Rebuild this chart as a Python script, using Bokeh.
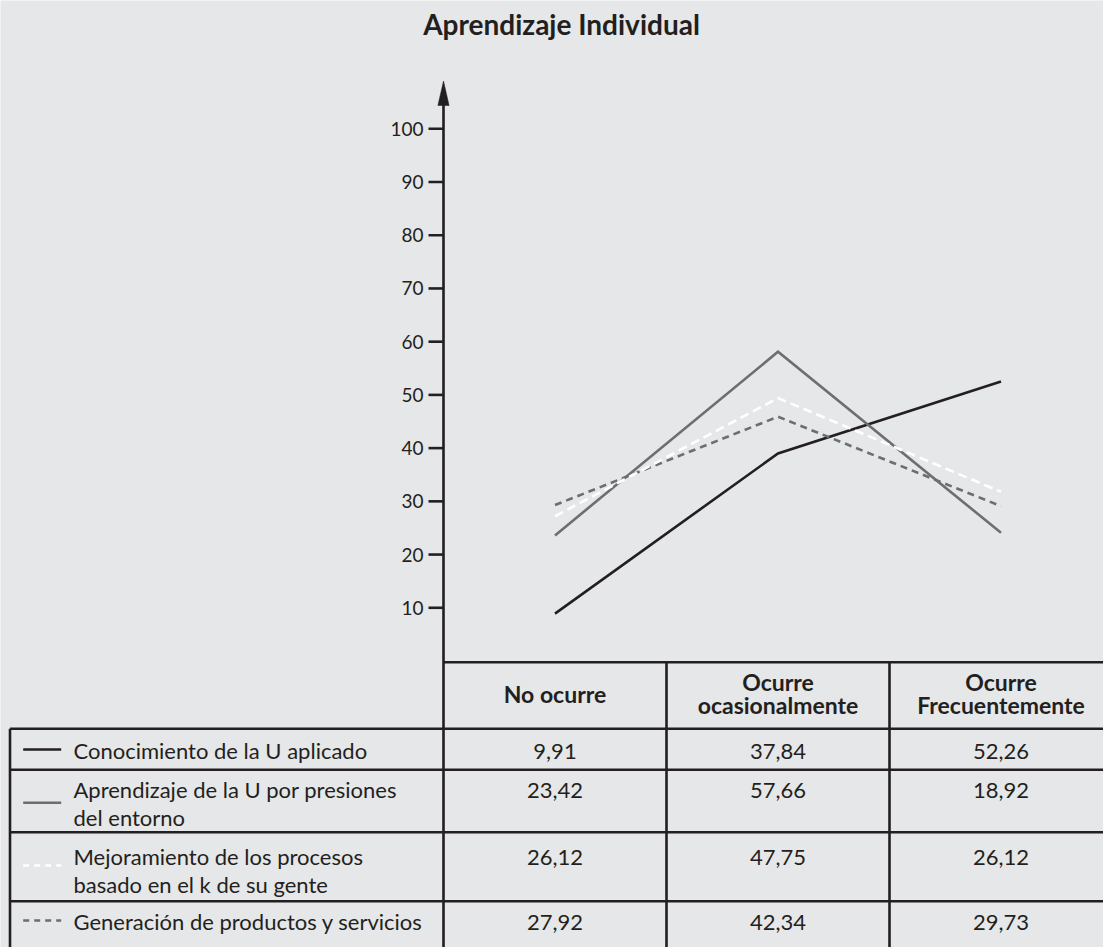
from bokeh.plotting import figure
from bokeh.models import Range1d
from bokeh.core.properties import value
from bokeh.embed import file_html
from bokeh.resources import INLINE

# ---------------- data ----------------
title_text = "Aprendizaje Individual"
categories = ["No ocurre", "Ocurre\nocasionalmente", "Ocurre\nFrecuentemente"]
series_names = [
    "Conocimiento de la U aplicado",
    "Aprendizaje de la U por presiones\ndel  entorno",
    "Mejoramiento de los procesos\nbasado en el k de su gente",
    "Generación de productos y servicios",
]
# values printed in the table
table_conocimiento = [9.91, 37.84, 52.26]
table_aprendizaje = [23.42, 57.66, 18.92]
table_mejoramiento = [26.12, 47.75, 26.12]
table_generacion = [27.92, 42.34, 29.73]
# values as drawn by the lines of the chart
line_conocimiento = [8.9, 39.0, 52.5]
line_aprendizaje = [23.6, 58.1, 24.1]
line_mejoramiento = [27.2, 49.4, 31.8]
line_generacion = [29.3, 45.9, 29.1]
y_ticks = [10, 20, 30, 40, 50, 60, 70, 80, 90, 100]

# ---------------- styles / layout ----------------
BG = "#e6e7e8"
INK = "#231f20"
GRAY = "#6d6e71"
WHITE = "#ffffff"
FONT = "Lato"

W, H = 1103, 947
AX_PX = 443.0      # pixel x of the value axis
COL_PX = 223.0     # pixel width of a table column
ZERO_PX = 660.5    # pixel y of value 0
UNIT_PX = 5.322    # pixels per value unit


def X(px):
    return (px - AX_PX) / COL_PX


def Y(py):
    return (ZERO_PX - py) / UNIT_PX


p = figure(width=W, height=H,
           x_range=Range1d(X(0), X(W)), y_range=Range1d(Y(H), Y(0)),
           output_backend="svg", toolbar_location=None, min_border=0,
           x_axis_location=None, y_axis_location=None,
           background_fill_color=BG, border_fill_color=BG,
           outline_line_color=None)
for g in p.grid:
    g.visible = False

# ---------------- title ----------------
p.text(x=[X(561)], y=[Y(23)], text=[title_text], text_align="center",
       text_baseline="middle", text_font=value(FONT), text_font_style="bold",
       text_font_size="28px", text_color=INK)

# ---------------- axis ----------------
LW = 2.6
p.segment(x0=[0], y0=[Y(104)], x1=[0], y1=[Y(H + 5)], line_color=INK, line_width=LW)
p.patch(x=[X(AX_PX - 5.6), 0, X(AX_PX + 5.6)], y=[Y(105), Y(80.5), Y(105)],
        color=INK, line_width=0.5)
n = len(y_ticks)
p.segment(x0=[X(428)] * n, y0=y_ticks, x1=[0] * n, y1=y_ticks,
          line_color=INK, line_width=LW)
p.text(x=[X(423)] * n, y=y_ticks, text=[str(t) for t in y_ticks],
       text_align="right", text_baseline="middle", text_font=value(FONT),
       text_font_size="19px", text_color=INK)

# ---------------- lines ----------------
xs = [i + 0.5 for i in range(len(categories))]
p.line(xs, line_conocimiento, line_color=INK, line_width=LW, line_join="miter")
p.line(xs, line_aprendizaje, line_color=GRAY, line_width=LW, line_join="miter")
p.line(xs, line_generacion, line_color=GRAY, line_width=LW, line_join="miter",
       line_dash="7 5")
p.line(xs, line_mejoramiento, line_color=WHITE, line_width=LW, line_join="miter",
       line_dash="9 5")

# ---------------- table ----------------
header_top = 661.7
row_tops = [728.3, 769.3, 831.7, 900.7]
left_px = 9.5
col_edges_px = [666.0, 889.0]
# horizontal rules
p.segment(x0=[0], y0=[Y(header_top)], x1=[X(W + 5)], y1=[Y(header_top)],
          line_color=INK, line_width=LW)
p.segment(x0=[X(left_px)] * len(row_tops), y0=[Y(r) for r in row_tops],
          x1=[X(W + 5)] * len(row_tops), y1=[Y(r) for r in row_tops],
          line_color=INK, line_width=LW)
# vertical rules
p.segment(x0=[X(left_px)], y0=[Y(row_tops[0])], x1=[X(left_px)], y1=[Y(H + 5)],
          line_color=INK, line_width=LW)
p.segment(x0=[X(c) for c in col_edges_px], y0=[Y(header_top)] * 2,
          x1=[X(c) for c in col_edges_px], y1=[Y(H + 5)] * 2,
          line_color=INK, line_width=LW)

# header texts
hx, hy, ht = [], [], []
for i, cat in enumerate(categories):
    lines = cat.split("\n")
    k = len(lines)
    for j, ln in enumerate(lines):
        hx.append(xs[i])
        hy.append(Y(693 + (j - (k - 1) / 2) * 23.3))
        ht.append(ln)
p.text(x=hx, y=hy, text=ht, text_align="center", text_baseline="middle",
       text_font=value(FONT), text_font_style="bold", text_font_size="23px",
       text_color=INK)

# row labels, legend samples and values
first_line_px = [749.5, 788.5, 855.5, 921.0]
sample_px = [749.0, 802.3, 865.0, 920.0]
line_step = 28.5
sample_colors = [INK, GRAY, WHITE, GRAY]
sample_dash = ["solid", "solid", "6 5", "6 5"]
all_table = [table_conocimiento, table_aprendizaje, table_mejoramiento, table_generacion]

lx, ly, lt = [], [], []
vx, vy, vt = [], [], []
for r, name in enumerate(series_names):
    for j, ln in enumerate(name.split("\n")):
        lx.append(X(73))
        ly.append(Y(first_line_px[r] + j * line_step))
        lt.append(ln)
    for i, v in enumerate(all_table[r]):
        vx.append(xs[i])
        vy.append(Y(first_line_px[r] + 1))
        vt.append(f"{v:.2f}".replace(".", ","))
    p.line([X(22.7), X(60.7)], [Y(sample_px[r])] * 2, line_color=sample_colors[r],
           line_width=2.4, line_dash=sample_dash[r])

p.text(x=lx, y=ly, text=lt, text_align="left", text_baseline="middle",
       text_font=value(FONT), text_font_size="22px", text_color=INK)
p.text(x=vx, y=vy, text=vt, text_align="center", text_baseline="middle",
       text_font=value(FONT), text_font_size="22px", text_color=INK)

open("out.html", "w").write(file_html(p, INLINE))
